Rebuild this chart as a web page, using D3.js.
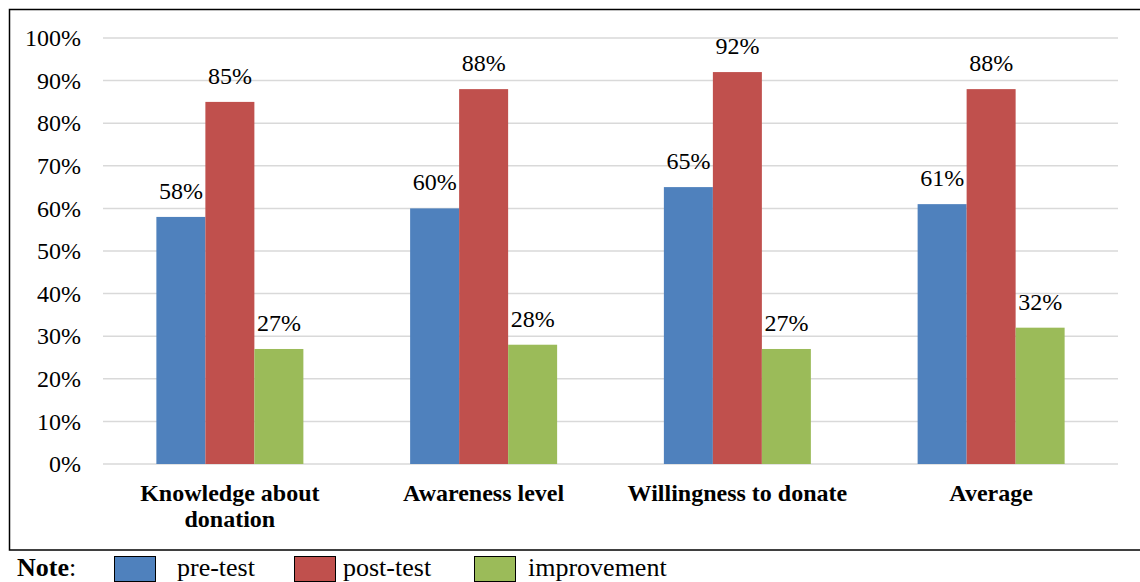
<!DOCTYPE html>
<html><head><meta charset="utf-8">
<script src="https://cdn.jsdelivr.net/npm/d3@7"></script>
<style>body{margin:0;background:#fff}svg{display:block}</style>
</head><body><svg id="c" width="1140" height="582"></svg>
<script>
const categories = [["Knowledge about","donation"],["Awareness level"],["Willingness to donate"],["Average"]];
const seriesNames = ["pre-test","post-test","improvement"];
const preTest = [58,60,65,61];
const postTest = [85,88,92,88];
const improvement = [27,28,27,32];
const yTicks = [0,10,20,30,40,50,60,70,80,90,100];
const colors = ["#4F81BD","#C0504D","#9BBB59"];

(function(){
const FF = '"Liberation Serif"';
const series = [preTest, postTest, improvement];
const svg = d3.select("#c");
svg.append("rect").attr("x",9.5).attr("y",9.5).attr("width",1140).attr("height",540.5)
  .attr("fill","none").attr("stroke","#000").attr("stroke-width",1.5);

const pL=103, pR=1118, pT=38, pB=464;
const x0 = d3.scaleBand().domain(d3.range(categories.length)).range([pL,pR]);
const x1 = d3.scaleBand().domain(d3.range(series.length)).range([0,147]);
const y = d3.scaleLinear().domain([0,100]).range([pB,pT]);

svg.append("g").selectAll("line").data(yTicks).join("line")
  .attr("x1",pL).attr("x2",pR).attr("y1",d=>y(d)).attr("y2",d=>y(d))
  .attr("stroke","#d9d9d9").attr("stroke-width",1.5);

const yAxis = d3.axisLeft(y).tickValues(yTicks).tickFormat(d=>d+"%").tickSize(0).tickPadding(22);
const yg = svg.append("g").attr("transform",`translate(${pL},0)`).call(yAxis);
yg.attr("font-family",null).attr("font-size",null);
yg.select(".domain").remove();
yg.selectAll("text").attr("fill","#000");

categories.forEach((c,i)=>{
  const gx = x0(i) + x0.bandwidth()/2 - 147/2;
  const g = svg.append("g").attr("transform",`translate(${gx},0)`);
  series.forEach((s,k)=>{
    g.append("rect").attr("x",x1(k)).attr("width",x1.bandwidth())
      .attr("y",y(s[i])).attr("height",y(0)-y(s[i])).attr("fill",colors[k]);
    g.append("text").attr("x",x1(k)+x1.bandwidth()/2).attr("y",y(s[i])-18)
      .attr("text-anchor","middle").attr("fill","#000").text(s[i]+"%");
  });
  const t = svg.append("text").attr("x",x0(i)+x0.bandwidth()/2).attr("y",501)
    .attr("text-anchor","middle").style("font-weight","bold").attr("fill","#000");
  c.forEach((line,j)=>{
    t.append("tspan").attr("x",x0(i)+x0.bandwidth()/2).attr("dy",j===0?0:26).text(line);
  });
});

const leg = svg.append("g").attr("class","leg");
leg.append("text").attr("x",17).attr("y",576).style("font-weight","bold").text("Note");
leg.append("text").attr("x",69).attr("y",576).text(":");
const legX = [114,294,474];
const legTX = [177,343,528];
seriesNames.forEach((n,k)=>{
  leg.append("rect").attr("x",legX[k]+0.5).attr("y",556.5).attr("width",41).attr("height",25)
    .attr("fill",colors[k]).attr("stroke","#000").attr("stroke-width",1);
  leg.append("text").attr("x",legTX[k]).attr("y",576).text(n);
});

svg.selectAll("text").style("font-family",FF).style("font-size","24px");
leg.selectAll("text").style("font-size","26px");
})();
</script></body></html>
